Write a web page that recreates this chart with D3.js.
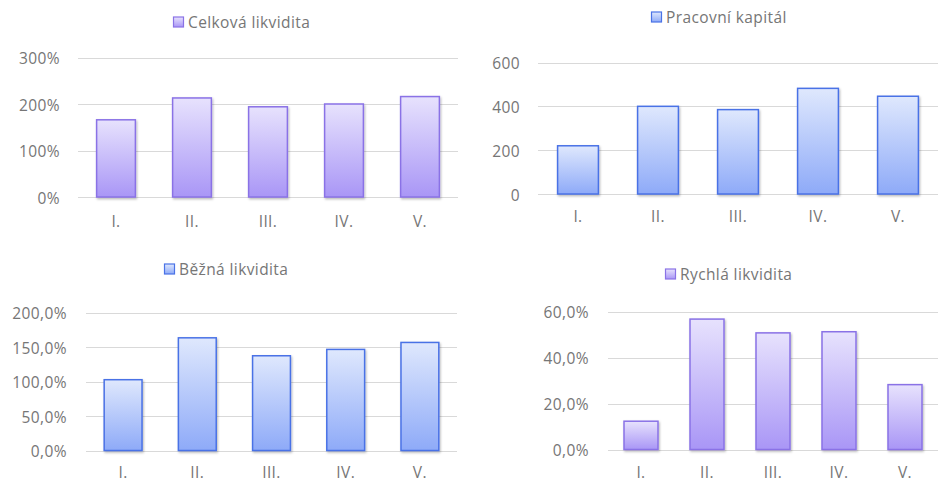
<!DOCTYPE html>
<html>
<head>
<meta charset="utf-8">
<script src="https://cdn.jsdelivr.net/npm/d3@7"></script>
<style>
  html, body { margin: 0; padding: 0; background: #ffffff; }
  svg { display: block; }
  text { font-family: "Open Sans", Lato, sans-serif; letter-spacing: 0.4px; }
</style>
</head>
<body>
<svg id="chart" width="944" height="483"></svg>
<script>
// ---- data ----
const categories = ["I.", "II.", "III.", "IV.", "V."];

const celkovaName = "Celková likvidita";
const celkovaValues = [1.66, 2.13, 1.94, 2.00, 2.16];
const celkovaTicks = [0, 1, 2, 3];

const pracovniName = "Pracovní kapitál";
const pracovniValues = [220, 400, 385, 482, 446];
const pracovniTicks = [0, 200, 400, 600];

const beznaName = "Běžná likvidita";
const beznaValues = [1.026, 1.633, 1.373, 1.465, 1.566];
const beznaTicks = [0, 0.5, 1.0, 1.5, 2.0];

const rychlaName = "Rychlá likvidita";
const rychlaValues = [0.123, 0.567, 0.507, 0.512, 0.282];
const rychlaTicks = [0, 0.2, 0.4, 0.6];

// ---- formatting ----
const cz = d3.formatLocale({decimal: ",", thousands: "\u00a0", grouping: [3], currency: ["", " Kč"]});
const fmtPct0 = cz.format(".0%");
const fmtPct1 = cz.format(".1%");
const fmtInt = cz.format("d");

const FONT = 15.5;
const TEXT_COLOR = "#767676";

const svg = d3.select("#chart");
const defs = svg.append("defs");

const palettes = {
  purple: {top: "#e7e2fd", bottom: "#a996f6", stroke: "#8a72e6"},
  blue:   {top: "#dfe8fd", bottom: "#8eaaf8", stroke: "#4a72e6"}
};
Object.entries(palettes).forEach(([k, p]) => {
  const g = defs.append("linearGradient").attr("id", "grad-" + k)
    .attr("x1", 0).attr("y1", 0).attr("x2", 0).attr("y2", 1);
  g.append("stop").attr("offset", "0%").attr("stop-color", p.top);
  g.append("stop").attr("offset", "100%").attr("stop-color", p.bottom);
});
const shadow = defs.append("filter").attr("id", "shadow")
  .attr("x", "-20%").attr("y", "-10%").attr("width", "140%").attr("height", "130%");
shadow.append("feDropShadow").attr("dx", 1).attr("dy", 1.5)
  .attr("stdDeviation", 1).attr("flood-color", "#000").attr("flood-opacity", 0.28);

function drawChart(cfg) {
  const g = svg.append("g");
  const x = d3.scaleBand().domain(categories).range([cfg.x0, cfg.x1]).paddingInner(cfg.pad).paddingOuter(cfg.pad / 2);
  const y = d3.scaleLinear().domain([0, d3.max(cfg.ticks)]).range([cfg.yBottom, cfg.yTop]);
  const pal = palettes[cfg.color];

  // gridlines
  g.append("g").selectAll("line").data(cfg.ticks).join("line")
    .attr("x1", cfg.x0).attr("x2", cfg.x1)
    .attr("y1", d => Math.round(y(d)) + 0.5).attr("y2", d => Math.round(y(d)) + 0.5)
    .attr("stroke", "#d9d9d9").attr("stroke-width", 1);

  // y tick labels
  g.append("g").selectAll("text").data(cfg.ticks).join("text")
    .attr("x", cfg.labelX).attr("y", d => y(d) + 6.5)
    .attr("text-anchor", "end")
    .attr("font-size", FONT).attr("fill", TEXT_COLOR)
    .text(cfg.fmt);

  // bars
  g.append("g").selectAll("rect").data(cfg.values).join("rect")
    .attr("x", (d, i) => x(categories[i]))
    .attr("y", d => y(d))
    .attr("width", x.bandwidth())
    .attr("height", d => y(0) - y(d))
    .attr("fill", "url(#grad-" + cfg.color + ")")
    .attr("stroke", pal.stroke).attr("stroke-width", 1.5)
    .attr("filter", "url(#shadow)");

  // category labels
  g.append("g").selectAll("text").data(categories).join("text")
    .attr("x", d => x(d) + x.bandwidth() / 2)
    .attr("y", cfg.catY)
    .attr("text-anchor", "middle")
    .attr("font-size", FONT).attr("fill", TEXT_COLOR)
    .text(d => d);

  // legend
  const lg = g.append("g").attr("transform", `translate(${cfg.legX},${cfg.legY})`);
  lg.append("rect").attr("x", 0.5).attr("y", -5).attr("width", 10).attr("height", 10)
    .attr("fill", "url(#grad-" + cfg.color + ")").attr("stroke", pal.stroke).attr("stroke-width", 1.2);
  lg.append("text").attr("x", 15).attr("y", 5.5)
    .attr("font-size", FONT).attr("fill", TEXT_COLOR)
    .text(cfg.name);
}

drawChart({name: celkovaName, values: celkovaValues, ticks: celkovaTicks, fmt: fmtPct0, color: "purple",
  x0: 78, x1: 458, yTop: 57.5, yBottom: 197, pad: 0.49, labelX: 60, catY: 227, legX: 173, legY: 22});
drawChart({name: pracovniName, values: pracovniValues, ticks: pracovniTicks, fmt: fmtInt, color: "blue",
  x0: 538, x1: 938, yTop: 62.5, yBottom: 194, pad: 0.49, labelX: 520, catY: 222, legX: 651, legY: 17});
drawChart({name: beznaName, values: beznaValues, ticks: beznaTicks, fmt: fmtPct1, color: "blue",
  x0: 86, x1: 457, yTop: 312.5, yBottom: 450.5, pad: 0.49, labelX: 67, catY: 478, legX: 164, legY: 269});
drawChart({name: rychlaName, values: rychlaValues, ticks: rychlaTicks, fmt: fmtPct1, color: "purple",
  x0: 608, x1: 938, yTop: 311.5, yBottom: 449.5, pad: 0.485, labelX: 589, catY: 478, legX: 665, legY: 274});
</script>
</body>
</html>
